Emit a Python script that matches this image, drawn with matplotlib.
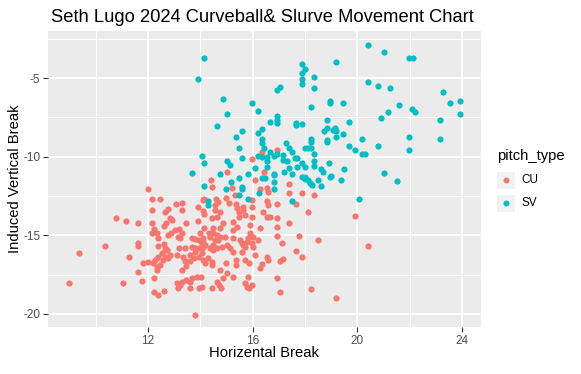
import matplotlib
matplotlib.use("Agg")
import matplotlib.pyplot as plt
from matplotlib.lines import Line2D
from matplotlib.patches import Rectangle

plt.rcParams['font.family'] = ['Liberation Sans', 'DejaVu Sans']

title = "Seth Lugo 2024 Curveball& Slurve Movement Chart"
x_label = "Horizental Break"
y_label = "Induced Vertical Break"
legend_title = "pitch_type"
categories = ["CU", "SV"]
x_ticks = [12, 16, 20, 24]
y_ticks = [-5, -10, -15, -20]

cu_pts = [
    (15.99, -10.17), (16.35, -9.7), (16.94, -9.58), (16.44, -10.96), (15.0, -10.96), (14.42, -11.46), (16.1, -11.46),
    (14.43, -11.9), (15.2, -12.01), (16.28, -12.06), (16.53, -12.01), (16.6, -12.23), (17.4, -11.76), (17.4, -12.33),
    (14.14, -12.69), (14.6, -12.69), (14.69, -12.86), (14.56, -13.07), (14.98, -12.61), (15.11, -12.97), (15.32, -12.44),
    (15.36, -13.03), (15.96, -12.76), (15.96, -13.18), (15.64, -13.18), (16.53, -12.82), (16.6, -13.07), (16.94, -13.03),
    (17.67, -13.03), (14.14, -13.66), (14.56, -13.39), (14.75, -13.5), (15.39, -13.28), (15.49, -13.5),
    (15.62, -13.39), (15.71, -13.71), (15.49, -13.82), (15.96, -13.82), (16.4, -13.5), (16.53, -13.82), (16.66, -13.82),
    (16.94, -13.92), (17.4, -14.24), (14.43, -13.92), (14.62, -13.82), (14.88, -14.24), (15.26, -14.13),
    (15.39, -14.45), (15.26, -14.66), (15.9, -14.35), (16.28, -14.52), (16.94, -14.45), (16.94, -15.02), (14.14, -14.56),
    (14.49, -14.56), (14.75, -14.56), (14.34, -14.87), (14.37, -15.08), (14.49, -14.87), (14.62, -14.98), (14.75, -15.08),
    (14.56, -15.3), (14.69, -15.3), (14.94, -15.08), (15.26, -15.19), (15.51, -15.3), (15.9, -14.87), (16.02, -15.08),
    (15.83, -15.19), (15.96, -15.51), (15.77, -15.41), (15.58, -15.51), (15.71, -15.72), (16.22, -15.3), (17.1, -15.51),
    (13.98, -14.87), (14.11, -15.41), (14.11, -15.72), (14.37, -15.83),
    (14.81, -15.72), (15.0, -15.62), (15.13, -15.83),
    (17.87, -12.33), (18.35, -12.44), (18.12, -13.54), (17.78, -15.04), (18.51, -15.33), (17.65, -16.0), (17.87, -16.38),
    (18.23, -18.43), (19.2, -19.0), (19.92, -13.79), (20.42, -15.7),
    (12.01, -12.06), (12.14, -12.71), (12.47, -12.71), (13.08, -13.03), (13.31, -12.97), (12.14, -13.39), (12.65, -13.5),
    (12.75, -13.35), (13.31, -13.39), (13.92, -13.18), (14.11, -12.76), (10.79, -13.92), (11.17, -14.09), (11.63, -14.24),
    (12.14, -14.24), (12.84, -13.92), (12.9, -14.03), (12.69, -14.24), (12.62, -14.41), (13.46, -14.24), (13.92, -14.09),
    (14.11, -13.45), (12.14, -14.87), (12.24, -14.62), (12.33, -14.87), (12.37, -15.15), (12.78, -14.98), (12.88, -14.87),
    (13.03, -14.66), (13.18, -14.62), (13.29, -14.87), (13.13, -15.08), (13.22, -15.19), (13.69, -15.19), (13.8, -15.23),
    (13.96, -15.3), (14.11, -15.19), (14.05, -15.51), (14.18, -15.62), (11.63, -15.51), (11.63, -15.68), (10.34, -15.68),
    (12.37, -15.68), (12.62, -15.57), (12.65, -15.83), (13.18, -15.79), (13.41, -15.79), (13.69, -15.72), (13.8, -15.83),
    (13.96, -15.79),
    (9.36, -16.15), (8.98, -18.05),
    (12.71, -15.93), (12.52, -16.15), (12.39, -16.36), (12.27, -16.57), (12.2, -16.78), (12.33, -17.0), (12.33, -17.2),
    (12.46, -16.89), (12.58, -16.57), (12.65, -16.36), (12.84, -16.25), (12.78, -16.46), (11.28, -16.4), (11.79, -16.78),
    (12.01, -16.68), (11.63, -17.35), (11.78, -17.9), (11.06, -18.05), (12.24, -17.73), (12.24, -18.58), (12.37, -18.8),
    (12.62, -18.54), (13.09, -16.25), (14.05, -15.83), (14.05, -16.15), (13.8, -16.08), (13.6, -16.25), (13.35, -16.36),
    (13.41, -16.63), (13.6, -16.63), (13.77, -16.46), (13.95, -16.36), (14.11, -16.57), (13.31, -17.2), (13.47, -16.94),
    (13.09, -18.05), (13.22, -18.16), (13.31, -17.95), (13.44, -17.84), (13.6, -17.95), (13.69, -17.73), (13.86, -17.63),
    (14.02, -17.63), (14.05, -18.27), (13.95, -18.33), (13.6, -18.37), (13.13, -18.33), (13.8, -20.07),
    (14.49, -15.93), (14.62, -15.83), (14.47, -15.62), (15.24, -16.04), (15.64, -15.62), (15.58, -16.04),
    (16.02, -15.72), (16.09, -16.25), (14.18, -16.78), (14.3, -16.46), (14.43, -16.68), (14.43, -16.89),
    (14.98, -16.78), (15.36, -16.57), (15.36, -16.89), (15.71, -16.57), (15.87, -16.78), (16.28, -17.06), (16.35, -16.84),
    (16.53, -16.36), (16.6, -16.57), (17.04, -16.63), (17.17, -16.51), (14.75, -17.2), (15.0, -17.42),
    (14.88, -17.73), (15.26, -17.63), (15.83, -17.63), (16.94, -17.73), (14.62, -17.95), (14.72, -18.16),
    (14.78, -18.37), (14.43, -18.33), (15.71, -18.05), (15.77, -18.27), (15.87, -18.33), (15.96, -18.16), (17.04, -18.58),
]

sv_pts = [
    (13.92, -5.08), (13.68, -11.06), (14.15, -3.75), (17.9, -4.13), (18.0, -4.45), (17.9, -4.7), (17.9, -5.08),
    (17.9, -5.38), (18.35, -4.95), (18.35, -5.65), (19.2, -4.0), (17.04, -5.55), (16.94, -5.78), (14.88, -6.35),
    (15.99, -6.59), (16.22, -7.12), (15.0, -7.31), (14.65, -8.07), (18.95, -6.46), (18.95, -6.61), (19.46, -6.6),
    (18.24, -6.86), (16.94, -7.42), (16.94, -7.67), (16.94, -7.84), (16.67, -7.82), (17.67, -7.84), (17.67, -7.97),
    (17.9, -7.94), (18.85, -7.67), (18.73, -8.37), (18.85, -8.2), (19.15, -8.2), (19.2, -8.35), (19.08, -8.3),
    (18.85, -8.94), (18.85, -9.05), (19.2, -8.77), (19.46, -8.54), (18.24, -8.9), (18.24, -9.05), (16.35, -8.26),
    (16.22, -8.52), (15.6, -8.37), (15.36, -8.77), (16.35, -8.9), (16.35, -9.15), (15.49, -9.47), (16.44, -9.47),
    (17.28, -9.15), (17.4, -9.47), (18.0, -9.47), (18.1, -9.47), (18.24, -9.47), (18.35, -9.83), (18.35, -10.28),
    (18.35, -10.6), (16.67, -9.73), (16.81, -9.96), (16.92, -9.83), (16.2, -9.96), (16.35, -10.0), (16.53, -10.0),
    (16.53, -10.26), (17.17, -9.9), (17.17, -10.2), (17.3, -10.3), (17.5, -9.7), (17.6, -10.1), (17.7, -10.1),
    (17.9, -10.42), (18.0, -10.68), (17.7, -10.68), (17.4, -10.7), (17.2, -11.0), (15.6, -10.1), (14.05, -9.96),
    (14.15, -10.42), (15.0, -10.28), (15.14, -10.55), (16.1, -10.74), (16.56, -10.68), (14.75, -11.12),
    (15.83, -11.12), (16.8, -11.1), (17.9, -11.3), (18.0, -11.3), (18.6, -10.8), (18.7, -11.0), (19.0, -11.25),
    (18.9, -10.4), (19.5, -10.8), (17.51, -11.12),
    (20.42, -2.92), (21.03, -3.37), (21.98, -3.75), (22.11, -3.75), (20.42, -5.27), (20.78, -5.51), (21.26, -5.65),
    (23.28, -5.91), (23.54, -6.61), (23.9, -6.48), (23.9, -7.31), (21.6, -6.74), (21.15, -7.18), (20.91, -7.56),
    (22.09, -6.97), (22.21, -7.18), (19.69, -7.82), (20.19, -8.9), (19.69, -9.34), (19.92, -9.58), (20.19, -9.85),
    (20.29, -9.85), (20.78, -9.34), (21.98, -8.77), (21.98, -9.6), (23.17, -7.69), (23.17, -8.9),
    (21.03, -11.06), (19.37, -11.48), (21.5, -11.55), (20.07, -12.71),
    (14.15, -11.87), (15.16, -11.6), (14.99, -12.07), (15.49, -11.38), (15.6, -11.9), (15.6, -12.06),
    (15.49, -12.44), (15.83, -12.7), (14.28, -12.82), (14.3, -13.08), (16.35, -11.38), (16.45, -11.38), (16.81, -11.63),
    (16.81, -12.03), (16.81, -11.17), (16.23, -12.33), (17.5, -12.82), (18.0, -11.4), (18.1, -11.5), (18.2, -11.65),
    (18.25, -11.8), (18.5, -11.48), (18.6, -11.87), (18.95, -11.27),
]

cu_x = [p[0] for p in cu_pts]
cu_y = [p[1] for p in cu_pts]
sv_x = [p[0] for p in sv_pts]
sv_y = [p[1] for p in sv_pts]

colors = {"CU": "#F8766D", "SV": "#00BFC4"}

W, H = 581, 374
fig = plt.figure(figsize=(W / 100, H / 100), dpi=100)
fig.patch.set_facecolor("white")
ax = fig.add_axes([48 / W, 1 - 327 / H, (481 - 48) / W, (327 - 31) / H])
ax.set_facecolor("#EBEBEB")
for s in ax.spines.values():
    s.set_visible(False)

ax.set_xlim(8.18, 24.72)
ax.set_ylim(-20.83, -2.01)
ax.set_xticks(x_ticks)
ax.set_yticks(y_ticks)
ax.set_xticks([10, 14, 18, 22], minor=True)
ax.set_yticks([-2.5, -7.5, -12.5, -17.5], minor=True)
ax.grid(which="major", color="white", linewidth=1.35)
ax.grid(which="minor", color="white", linewidth=0.7)
ax.set_axisbelow(True)
ax.tick_params(which="major", length=3.5, width=0.8, color="#333333", labelcolor="#4D4D4D",
               labelsize=8.5, pad=2)
ax.tick_params(which="minor", length=0)
ax.set_xticklabels([str(t) for t in x_ticks])
ax.set_yticklabels([str(t) for t in y_ticks])

ax.scatter(cu_x, cu_y, s=20, color=colors["CU"], linewidths=0, zorder=3)
ax.scatter(sv_x, sv_y, s=20, color=colors["SV"], linewidths=0, zorder=3)

fig.text(262 / W, 1 - 17 / H, title, ha="center", va="center", fontsize=13.2, color="black")
fig.text(264 / W, 1 - 353 / H, x_label, ha="center", va="center", fontsize=10.6, color="black")
fig.text(15 / W, 1 - 179 / H, y_label, ha="center", va="center", rotation=90, fontsize=10.6, color="black")

# legend
fig.text(497 / W, 1 - 156 / H, legend_title, ha="left", va="center", fontsize=10.6, color="black")
key_y = [180, 203]
for cat, ky in zip(categories, key_y):
    fig.patches.append(Rectangle((497 / W, 1 - (ky + 9) / H), 17.5 / W, 17.5 / H,
                                 transform=fig.transFigure, facecolor="#F2F2F2", edgecolor="none"))
    fig.lines.append(Line2D([506 / W], [1 - ky / H], transform=fig.transFigure, marker="o",
                            markersize=4.3, markerfacecolor=colors[cat], markeredgewidth=0, linestyle="none"))
    fig.text(521 / W, 1 - ky / H, cat, ha="left", va="center", fontsize=8.5, color="black")

fig.savefig("out.png", dpi=100, facecolor="white")
